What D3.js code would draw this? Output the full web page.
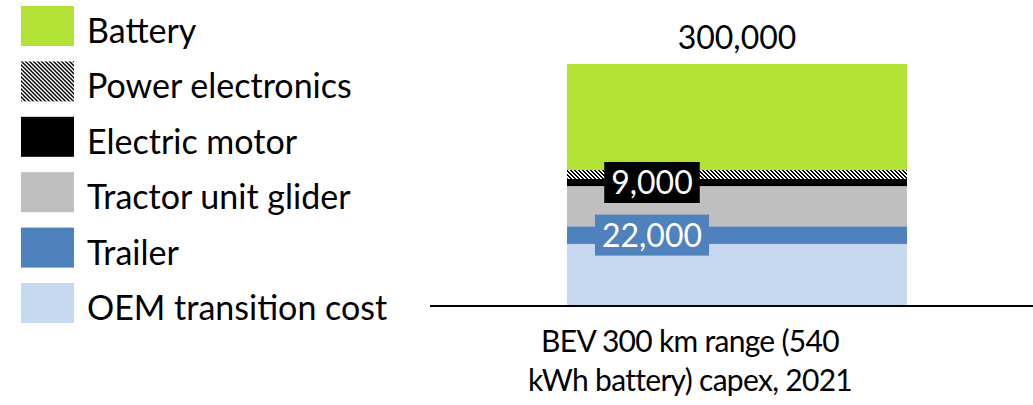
<!DOCTYPE html>
<html>
<head>
<meta charset="utf-8">
<script src="https://cdn.jsdelivr.net/npm/d3@7"></script>
<style>
  body { margin: 0; background: #fff; }
  svg { display: block; font-family: Lato, "Open Sans", sans-serif; }
</style>
</head>
<body>
<svg id="chart" width="1033" height="405"></svg>
<script>
var categories = ["BEV 300 km range (540 kWh battery) capex, 2021"];
var categoryLines = ["BEV 300 km range (540", "kWh battery) capex, 2021"];
// stacked from the bottom up
var seriesNames = ["OEM transition cost", "Trailer", "Tractor unit glider", "Electric motor", "Power electronics", "Battery"];
var seriesValues = [76000, 22000, 50000, 9000, 11000, 132000];
var totalLabel = "300,000";
var shownLabels = {"Electric motor": "9,000", "Trailer": "22,000"};
// legend reads top to bottom
var legendOrder = ["Battery", "Power electronics", "Electric motor", "Tractor unit glider", "Trailer", "OEM transition cost"];

var colors = {
  "Battery": "#b1e235",
  "Power electronics": "url(#hatch)",
  "Electric motor": "#000000",
  "Tractor unit glider": "#bfbfbf",
  "Trailer": "#4f81bd",
  "OEM transition cost": "#c6d9f1"
};
var labelBg = {"Electric motor": "#000000", "Trailer": "#4f81bd"};

var svg = d3.select("#chart");

// hatch pattern for power electronics (pixel diagonal)
var defs = svg.append("defs");
var pat = defs.append("pattern")
  .attr("id", "hatch")
  .attr("patternUnits", "userSpaceOnUse")
  .attr("width", 4).attr("height", 4);
pat.append("rect").attr("width", 4).attr("height", 4).attr("fill", "#fff");
[[0,0],[1,0],[1,1],[2,1],[2,2],[3,2],[3,3],[0,3]].forEach(function(p) {
  pat.append("rect")
    .attr("x", p[0]).attr("y", p[1])
    .attr("width", 1).attr("height", 1)
    .attr("fill", "#000")
    .attr("shape-rendering", "crispEdges");
});

var y = d3.scaleLinear().domain([0, 300000]).range([305, 64]);
var x = d3.scaleBand().domain(categories).range([567, 907]).padding(0);

// stack
var stackData = [{}];
seriesNames.forEach(function(s, i) { stackData[0][s] = seriesValues[i]; });
var stacked = d3.stack().keys(seriesNames)(stackData);

var g = svg.append("g");
g.selectAll("rect.seg")
  .data(stacked)
  .enter()
  .append("rect")
  .attr("class", "seg")
  .attr("x", x(categories[0]))
  .attr("width", x.bandwidth())
  .attr("y", function(d) { return y(d[0][1]); })
  .attr("height", function(d) { return y(d[0][0]) - y(d[0][1]); })
  .attr("fill", function(d) { return colors[d.key]; });

// axis line
svg.append("line")
  .attr("x1", 430).attr("x2", 1033)
  .attr("y1", y(0) + 1).attr("y2", y(0) + 1)
  .attr("stroke", "#000").attr("stroke-width", 2);

// category label
var catX = x(categories[0]) + x.bandwidth() / 2 - 47;
svg.append("text")
  .attr("x", catX).attr("y", 352)
  .attr("text-anchor", "middle")
  .attr("font-size", 30)
  .attr("letter-spacing", -0.7)
  .attr("fill", "#000")
  .selectAll("tspan")
  .data(categoryLines)
  .enter()
  .append("tspan")
  .attr("x", catX)
  .attr("dy", function(d, i) { return i == 0 ? 0 : 38.5; })
  .text(function(d) { return d; });

// total label
svg.append("text")
  .attr("x", x(categories[0]) + x.bandwidth() / 2)
  .attr("y", y(d3.sum(seriesValues)) - 15)
  .attr("text-anchor", "middle")
  .attr("font-size", 32)
  .attr("fill", "#000")
  .text(totalLabel);

// data labels with boxes
var lx = x(categories[0]) + x.bandwidth() * 0.25;
stacked.forEach(function(d) {
  var lab = shownLabels[d.key];
  if (!lab) return;
  var cy = (y(d[0][0]) + y(d[0][1])) / 2;
  var lg = svg.append("g");
  var box = lg.append("rect").attr("fill", labelBg[d.key]);
  var t = lg.append("text")
    .attr("x", lx).attr("y", cy + 11.5)
    .attr("text-anchor", "middle")
    .attr("font-size", 32)
    .attr("fill", "#fff")
    .text(lab);
  var w = t.node().getComputedTextLength();
  box.attr("x", lx - w / 2 - 7).attr("width", w + 14)
    .attr("y", cy - 20.5).attr("height", 41);
});

// legend
var ly = d3.scalePoint().domain(legendOrder).range([6, 283]);
var leg = svg.append("g").selectAll("g")
  .data(legendOrder)
  .enter()
  .append("g")
  .attr("transform", function(d) { return "translate(21," + ly(d) + ")"; });
leg.append("rect")
  .attr("width", 53).attr("height", 40)
  .attr("fill", function(d) { return colors[d]; });
leg.append("text")
  .attr("x", 66).attr("y", 37)
  .attr("font-size", 34)
  .attr("fill", "#000")
  .text(function(d) { return d; });
</script>
</body>
</html>
